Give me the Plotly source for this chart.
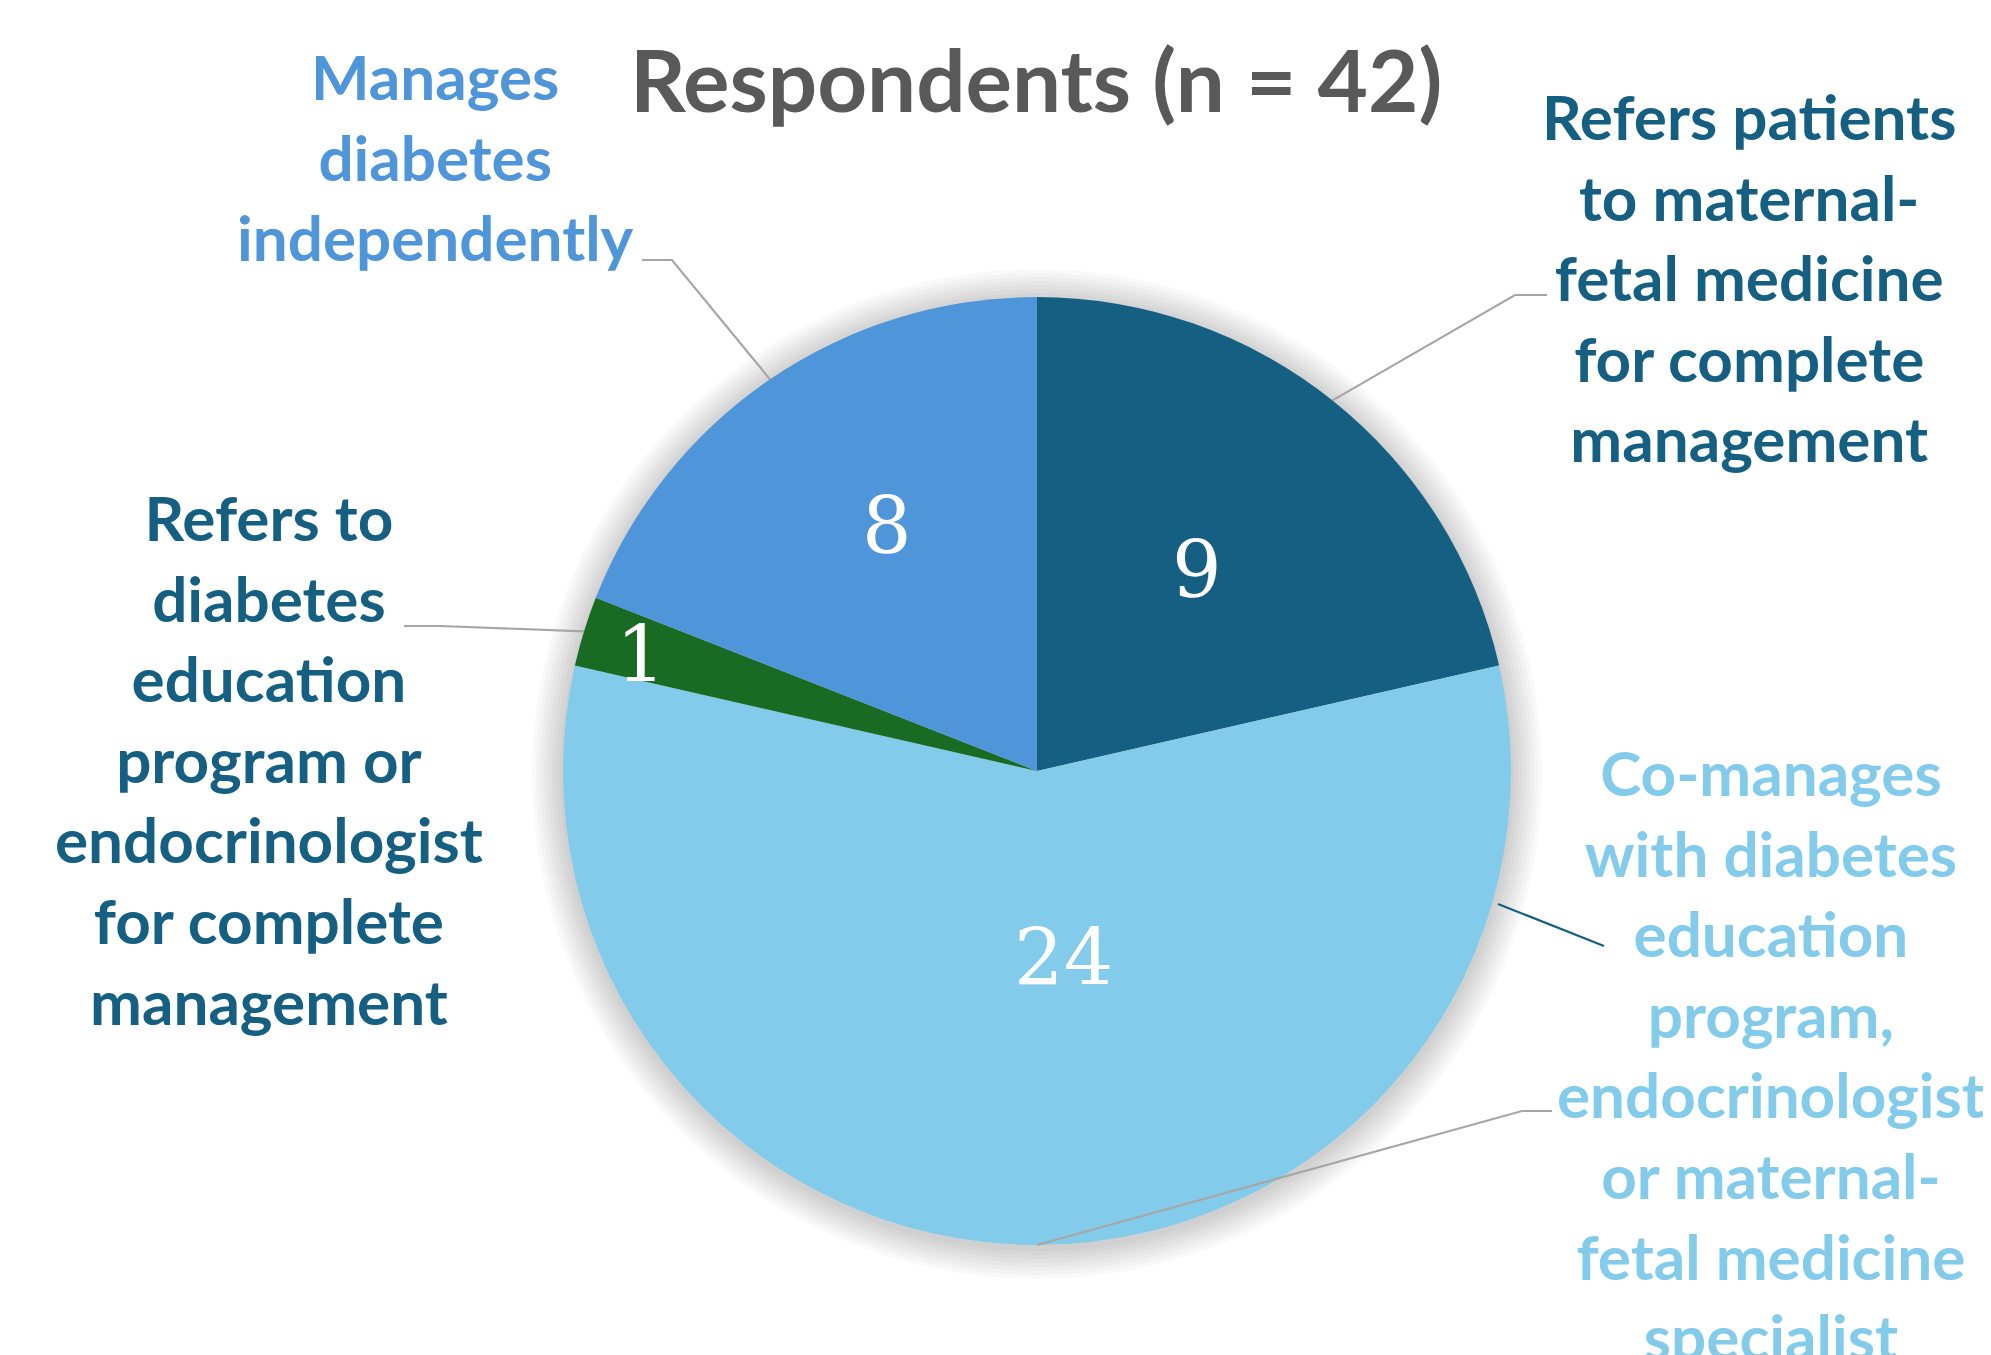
import math
import plotly.graph_objects as go

# ---------------- data ----------------
categories = [
    "Refers patients to maternal-fetal medicine for complete management",
    "Co-manages with diabetes education program, endocrinologist or maternal-fetal medicine specialist",
    "Refers to diabetes education program or endocrinologist for complete management",
    "Manages diabetes independently",
]
label_lines = [
    "Refers patients<br>to maternal-<br>fetal medicine<br>for complete<br>management",
    "Co-manages<br>with diabetes<br>education<br>program,<br>endocrinologist<br>or maternal-<br>fetal medicine<br>specialist",
    "Refers to<br>diabetes<br>education<br>program or<br>endocrinologist<br>for complete<br>management",
    "Manages<br>diabetes<br>independently",
]
values = [9, 24, 1, 8]
title_text = "Respondents (n = 42)"

# ---------------- style ----------------
slice_colors = ["#156082", "#83CBEB", "#196B24", "#4E95D9"]
label_colors = ["#156082", "#83CBEB", "#156082", "#4E95D9"]
W, H = 1991, 1355
OFF = 8                              # page body margin of the html page
CX, CY, R = 1037, 771, 474          # pie centre / radius in px
# outer label placement (px, centre of text block)
label_pos = [(1749, 277), (1771, 1054), (269, 759), (435, 157)]
# value label placement: radius fraction, angle tweak (deg)
val_rfrac = [0.54, 0.40, 0.87, 0.605]
val_dang = [0.0, -8.0, -0.9, 2.7]
# leader line geometry: elbow point and end point (px)
leader_pts = [
    [(1515, 295), (1547, 295)],
    [(1522, 1111), (1552, 1111)],
    [(440, 626), (404, 626)],
    [(672, 260), (642, 260)],
]


def px(x):
    return (x - OFF) / W


def py(y):
    return 1 - (y - OFF) / H


def polar(theta_deg, r):
    t = math.radians(theta_deg)
    return CX + r * math.sin(t), CY - r * math.cos(t)


total = sum(values)
mids = []
acc = 0.0
for v in values:
    mids.append((acc + v / 2) / total * 360)
    acc += v

fig = go.Figure()
fig.add_trace(go.Pie(
    labels=categories,
    values=values,
    sort=False,
    direction="clockwise",
    rotation=0,
    marker=dict(colors=slice_colors, line=dict(width=0)),
    textinfo="none",
    hoverinfo="label+value",
    showlegend=False,
    domain=dict(x=[px(CX - R), px(CX + R)], y=[py(CY + R), py(CY - R)]),
))

shapes = []
# soft shadow behind the pie
for i in range(8):
    rr = R + 3 + i * 4
    shapes.append(dict(
        type="circle", xref="paper", yref="paper",
        xsizemode="pixel", ysizemode="pixel",
        xanchor=px(CX), yanchor=py(CY + 3),
        x0=-rr, x1=rr, y0=-rr, y1=rr,
        fillcolor="rgba(0,0,0,0.025)", line=dict(width=0), layer="below",
    ))

# leader lines
for m, pts in zip(mids, leader_pts):
    ex, ey = polar(m, R)
    path = f"M {px(ex)},{py(ey)}"
    for (x, y) in pts:
        path += f" L {px(x)},{py(y)}"
    shapes.append(dict(type="path", xref="paper", yref="paper", path=path,
                       line=dict(color="#A6A6A6", width=2.2)))
# extra short dark leader near the right side
shapes.append(dict(type="line", xref="paper", yref="paper",
                   x0=px(1498), y0=py(904), x1=px(1604), y1=py(946),
                   line=dict(color="#156082", width=2.2)))

annotations = []
# title
annotations.append(dict(
    text=f"<b>{title_text}</b>", x=px(1036), y=py(79), xref="paper", yref="paper",
    showarrow=False, xanchor="center", yanchor="middle",
    font=dict(family="Lato", size=87, color="#595959"),
))
# outer labels
for txt, (lx, ly), c in zip(label_lines, label_pos, label_colors):
    annotations.append(dict(
        text=f"<b>{txt}</b>", x=px(lx), y=py(ly), xref="paper", yref="paper",
        showarrow=False, xanchor="center", yanchor="middle", align="center",
        font=dict(family="Lato", size=62, color=c),
    ))
# value labels
for v, m, rf, da in zip(values, mids, val_rfrac, val_dang):
    x, y = polar(m + da, rf * R)
    annotations.append(dict(
        text=str(v), x=px(x), y=py(y), xref="paper", yref="paper",
        showarrow=False, xanchor="center", yanchor="middle", yshift=1,
        font=dict(family="DejaVu Serif", size=78, color="white"),
    ))

fig.update_layout(
    width=W, height=H,
    margin=dict(l=0, r=0, t=0, b=0),
    paper_bgcolor="white", plot_bgcolor="white",
    shapes=shapes, annotations=annotations,
)

fig.write_html("out.html")
